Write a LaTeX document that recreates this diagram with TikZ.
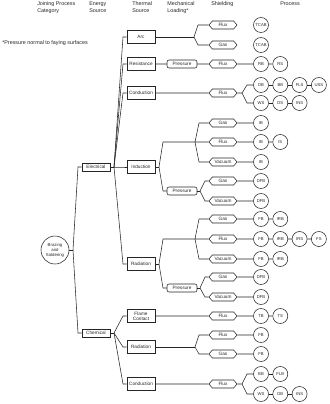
\documentclass[tikz,border=0pt]{standalone}
\usepackage{fontspec}
\setsansfont{Liberation Sans}
\usetikzlibrary{shapes.symbols, calc}
\definecolor{LineGray}{rgb}{0.15, 0.15, 0.15}

\begin{document}
\begin{tikzpicture}[x=2pt, y=-2pt, font=\sffamily\fontsize{9.4}{10.5}\selectfont,
    color=LineGray, line width=1.1pt,
    hdr/.style={anchor=north west, inner sep=0pt, align=left, font=\sffamily\fontsize{10.8}{14}\selectfont},
    rootnode/.style={circle, draw, minimum size=56pt, inner sep=0pt, align=center,
        font=\sffamily\fontsize{8.6}{10}\selectfont},
    energy/.style={draw, line width=1.3pt, minimum width=56pt, minimum height=16pt, inner sep=0pt},
    thermal/.style={draw, line width=1.4pt, minimum width=56pt, minimum height=26pt, inner sep=0pt, align=center},
    load/.style={draw, rounded corners=4pt, minimum width=60pt, minimum height=16pt, inner sep=0pt},
    shield/.style={draw, signal, signal to=east and west, signal pointer angle=100,
        minimum width=56pt, minimum height=16pt, inner sep=0pt},
    proc/.style={circle, draw, minimum size=30pt, inner sep=0pt, font=\sffamily\fontsize{8.4}{9}\selectfont}]

\useasboundingbox (0,0) rectangle (330,404);

% column headings
\node[hdr] (hcat) at (37,1.5) {Joining Process\\Category};
\node[hdr] (hsrc) at (89,1.5) {Energy\\Source};
\node[hdr] (hthm) at (132,1.5) {Thermal\\Source};
\node[hdr] (hload) at (167,1.5) {Mechanical\\Loading*};
\node[hdr] (hshd) at (211,1.5) {Shielding};
\node[hdr] (hproc) at (280,1.5) {Process};
\node[hdr] (note) at (2,40) {*Pressure normal to faying surfaces};

% category and energy source
\node[rootnode] (root) at (55,250) {Brazing\\and\\Soldering};
\node[energy] (elec) at (96,167) {Electrical};
\node[energy] (chem) at (96,333) {Chemical};

% thermal source
\node[thermal] (arc) at (141,37) {Arc};
\node[thermal] (resist) at (141,64) {Resistance};
\node[thermal] (conduct) at (141,93) {Conduction};
\node[thermal] (induct) at (141,167) {Induction};
\node[thermal] (radiate) at (141,264) {Radiation};
\node[thermal] (flame) at (141,316) {Flame\\Contact};
\node[thermal] (radiateC) at (141,347) {Radiation};
\node[thermal] (conductC) at (141,384) {Conduction};

% mechanical loading
\node[load] (pressR) at (182,64) {Pressure};
\node[load] (pressI) at (182,191) {Pressure};
\node[load] (pressD) at (182,288) {Pressure};

% shielding
\node[shield] (arcFlux) at (223,25) {Flux};
\node[shield] (arcGas) at (223,45) {Gas};
\node[shield] (resFlux) at (223,64) {Flux};
\node[shield] (conFlux) at (223,93) {Flux};
\node[shield] (indGas) at (223,123) {Gas};
\node[shield] (indFlux) at (223,142) {Flux};
\node[shield] (indVac) at (223,162) {Vacuum};
\node[shield] (ipGas) at (223,181) {Gas};
\node[shield] (ipVac) at (223,201) {Vacuum};
\node[shield] (radGas) at (223,219) {Gas};
\node[shield] (radFlux) at (223,239) {Flux};
\node[shield] (radVac) at (223,259) {Vacuum};
\node[shield] (rpGas) at (223,277) {Gas};
\node[shield] (rpVac) at (223,297) {Vacuum};
\node[shield] (flmFlux) at (223,316) {Flux};
\node[shield] (rcFlux) at (223,335) {Flux};
\node[shield] (rcGas) at (223,354) {Gas};
\node[shield] (ccFlux) at (223,384) {Flux};

% process
\node[proc] (tcabA) at (261,25) {TCAB};
\node[proc] (tcabB) at (261,45) {TCAB};
\node[proc] (rb) at (261,64) {RB};
\node[proc] (rs) at (280.3,64) {RS};
\node[proc] (db) at (261,85) {DB};
\node[proc] (bb) at (280.3,85) {BB};
\node[proc] (fls) at (299.6,85) {FLS};
\node[proc] (uss) at (318.9,85) {USS};
\node[proc] (ws) at (261,103) {WS};
\node[proc] (ds) at (280.3,103) {DS};
\node[proc] (ins) at (299.6,103) {INS};
\node[proc] (ibA) at (261,123) {IB};
\node[proc] (ibB) at (261,142) {IB};
\node[proc] (is) at (280.3,142) {IS};
\node[proc] (ibC) at (261,162) {IB};
\node[proc] (dfbA) at (261,181) {DFB};
\node[proc] (dfbB) at (261,201) {DFB};
\node[proc] (fbA) at (261,219) {FB};
\node[proc] (irbA) at (280.3,219) {IRB};
\node[proc] (fbB) at (261,239) {FB};
\node[proc] (irbB) at (280.3,239) {IRB};
\node[proc] (irs) at (299.6,239) {IRS};
\node[proc] (fs) at (318.9,239) {FS};
\node[proc] (fbC) at (261,259) {FB};
\node[proc] (irbC) at (280.3,259) {IRB};
\node[proc] (dfbC) at (261,277) {DFB};
\node[proc] (dfbD) at (261,297) {DFB};
\node[proc] (tb) at (261,316) {TB};
\node[proc] (ts) at (280.3,316) {TS};
\node[proc] (fbD) at (261,335) {FB};
\node[proc] (fbE) at (261,354) {FB};
\node[proc] (bbC) at (261,374) {BB};
\node[proc] (flb) at (280.3,374) {FLB};
\node[proc] (wsC) at (261,394) {WS};
\node[proc] (dbC) at (280.3,394) {DB};
\node[proc] (insC) at (299.6,394) {INS};

% fork and bend points
\coordinate (rootF) at (73,250);   \coordinate (rootB) at (78,250);
\coordinate (elecF) at (114,167);  \coordinate (elecB) at (123,167);
\coordinate (chemF) at (114,333);  \coordinate (chemB) at (123,333);
\coordinate (arcF) at (194,37);    \coordinate (arcB) at (198,37);
\coordinate (conF) at (242,93);    \coordinate (conB) at (247,93);
\coordinate (indF) at (159,167);   \coordinate (indB) at (163,167);
\coordinate (indS) at (195,142);   \coordinate (indSB) at (199,142);
\coordinate (ipF) at (200,191);    \coordinate (ipB) at (205,191);
\coordinate (radF) at (159,264);   \coordinate (radB) at (163,264);
\coordinate (radS) at (195,239);   \coordinate (radSB) at (199,239);
\coordinate (rpF) at (200,288);    \coordinate (rpB) at (205,288);
\coordinate (rcS) at (195,347);    \coordinate (rcSB) at (199,347);
\coordinate (ccF) at (242,384);    \coordinate (ccB) at (247,384);

% tree connectors
\draw (root) -- (rootF);
\draw (rootF) -- (rootB |- elec) -- (elec);
\draw (rootF) -- (rootB |- chem) -- (chem);
\draw (elec) -- (elecF);
\draw (elecF) -- (elecB |- arc) -- (arc);
\draw (elecF) -- (elecB |- resist) -- (resist);
\draw (elecF) -- (elecB |- conduct) -- (conduct);
\draw (elecF) -- (elecB |- induct) -- (induct);
\draw (elecF) -- (elecB |- radiate) -- (radiate);
\draw (chem) -- (chemF);
\draw (chemF) -- (chemB |- flame) -- (flame);
\draw (chemF) -- (chemB |- radiateC) -- (radiateC);
\draw (chemF) -- (chemB |- conductC) -- (conductC);

\draw (arc) -- (arcF);
\draw (arcF) -- (arcB |- arcFlux) -- (arcFlux);
\draw (arcF) -- (arcB |- arcGas) -- (arcGas);
\draw (resist) -- (pressR) -- (resFlux) -- (rb) -- (rs);
\draw (conduct) -- (conFlux) -- (conF);
\draw (conF) -- (conB |- db) -- (db);
\draw (conF) -- (conB |- ws) -- (ws);
\draw (db) -- (bb) -- (fls) -- (uss);
\draw (ws) -- (ds) -- (ins);

\draw (induct) -- (indF);
\draw (indF) -- (indB |- indS) -- (indS);
\draw (indF) -- (indB |- pressI) -- (pressI);
\draw (indS) -- (indSB |- indGas) -- (indGas);
\draw (indS) -- (indFlux);
\draw (indS) -- (indSB |- indVac) -- (indVac);
\draw (pressI) -- (ipF);
\draw (ipF) -- (ipB |- ipGas) -- (ipGas);
\draw (ipF) -- (ipB |- ipVac) -- (ipVac);
\draw (indGas) -- (ibA);
\draw (indFlux) -- (ibB) -- (is);
\draw (indVac) -- (ibC);
\draw (ipGas) -- (dfbA);
\draw (ipVac) -- (dfbB);

\draw (radiate) -- (radF);
\draw (radF) -- (radB |- radS) -- (radS);
\draw (radF) -- (radB |- pressD) -- (pressD);
\draw (radS) -- (radSB |- radGas) -- (radGas);
\draw (radS) -- (radFlux);
\draw (radS) -- (radSB |- radVac) -- (radVac);
\draw (pressD) -- (rpF);
\draw (rpF) -- (rpB |- rpGas) -- (rpGas);
\draw (rpF) -- (rpB |- rpVac) -- (rpVac);
\draw (radGas) -- (fbA) -- (irbA);
\draw (radFlux) -- (fbB) -- (irbB) -- (irs) -- (fs);
\draw (radVac) -- (fbC) -- (irbC);
\draw (rpGas) -- (dfbC);
\draw (rpVac) -- (dfbD);

\draw (flame) -- (flmFlux) -- (tb) -- (ts);
\draw (radiateC) -- (rcS);
\draw (rcS) -- (rcSB |- rcFlux) -- (rcFlux);
\draw (rcS) -- (rcSB |- rcGas) -- (rcGas);
\draw (rcFlux) -- (fbD);
\draw (rcGas) -- (fbE);
\draw (conductC) -- (ccFlux) -- (ccF);
\draw (ccF) -- (ccB |- bbC) -- (bbC);
\draw (ccF) -- (ccB |- wsC) -- (wsC);
\draw (bbC) -- (flb);
\draw (wsC) -- (dbC) -- (insC);

\end{tikzpicture}
\end{document}
